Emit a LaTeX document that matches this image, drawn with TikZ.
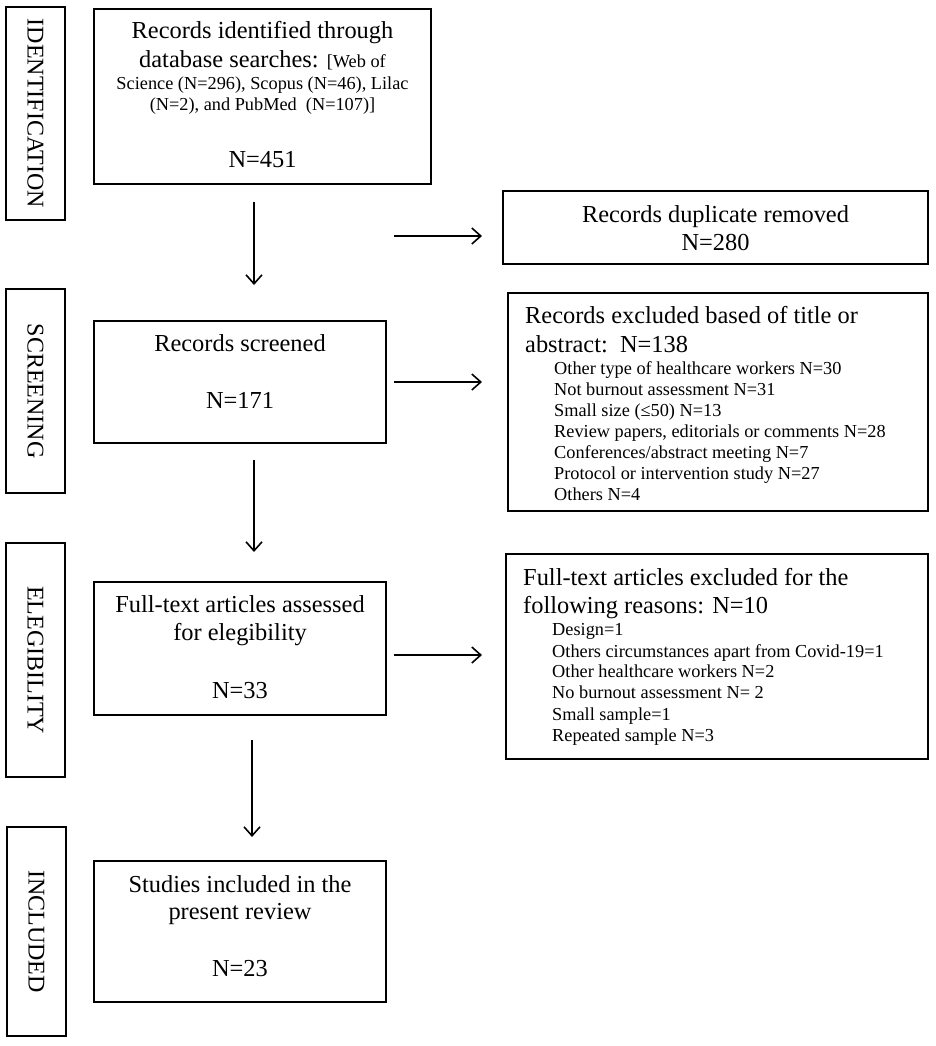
\documentclass[tikz,border=0pt]{standalone}
\usepackage{fontspec}
\setmainfont{Liberation Serif}
\usetikzlibrary{arrows.meta,calc}
\begin{document}
\begin{tikzpicture}[x=1pt,y=-1pt,
  box/.style={draw, line width=1.6pt, inner sep=0pt, outer sep=0pt, anchor=north west},
  big/.style={font=\fontsize{24.4}{28}\selectfont, inner sep=0pt, anchor=base},
  bigl/.style={font=\fontsize{24.4}{28}\selectfont, inner sep=0pt, anchor=base west},
  sm/.style={font=\fontsize{18.3}{21}\selectfont, inner sep=0pt, anchor=base},
  item/.style={font=\fontsize{18.3}{21}\selectfont, inner sep=0pt, anchor=base west},
  side/.style={font=\fontsize{24}{28}\selectfont, inner sep=0pt, rotate=-90},
  arr/.style={line width=1.6pt, -{Straight Barb[length=9pt, width=16pt, line width=1.6pt]}}
]
\useasboundingbox (0,0) rectangle (935,1046);
\fill[white] (0,0) rectangle (935,1046);

% side boxes
\node[box, minimum width=59pt, minimum height=213pt] (sid) at (6,7) {};
\node[side] (sidt) at (sid.center) {IDENTIFICATION};
\node[box, minimum width=59pt, minimum height=204pt] (ssc) at (6,289) {};
\node[side] (ssct) at (ssc.center) {SCREENING};
\node[box, minimum width=59pt, minimum height=234pt] (sel) at (6,543) {};
\node[side] (selt) at (sel.center) {ELEGIBILITY};
\node[box, minimum width=59pt, minimum height=209pt] (sin) at (7,827) {};
\node[side] (sint) at (sin.center) {INCLUDED};

% main boxes
\node[box, minimum width=337pt, minimum height=175pt] (b1) at (94,9) {};
\node[big] (b1a) at (262.5,39) {Records identified through};
\node[big] (b1b) at (262.5,68) {database searches: {\fontsize{18.3}{21}\selectfont [Web of}};
\node[sm]  (b1c) at (262.5,90) {Science (N=296), Scopus (N=46), Lilac};
\node[sm]  (b1d) at (262.5,111) {(N=2), and PubMed\ \ (N=107)]};
\node[big] (b1e) at (262.5,167) {N=451};

\node[box, minimum width=292pt, minimum height=122pt] (b2) at (94,321) {};
\node[big] (b2a) at (240,351) {Records screened};
\node[big] (b2b) at (240,408) {N=171};

\node[box, minimum width=292pt, minimum height=133pt] (b3) at (94,582) {};
\node[big] (b3a) at (240,612) {Full-text articles assessed};
\node[big] (b3b) at (240,640) {for elegibility};
\node[big] (b3c) at (240,698) {N=33};

\node[box, minimum width=292pt, minimum height=141pt] (b4) at (94,861) {};
\node[big] (b4a) at (240,892) {Studies included in the};
\node[big] (b4b) at (240,919) {present review};
\node[big] (b4c) at (240,976) {N=23};

% right boxes
\node[box, minimum width=425pt, minimum height=73pt] (dup) at (503,191) {};
\node[big] (dupa) at (715.5,222) {Records duplicate removed};
\node[big] (dupb) at (715.5,250) {N=280};

\node[box, minimum width=420pt, minimum height=218pt] (ex1) at (508,293) {};
\node[bigl] (ex1a) at (525,323) {Records excluded based of title or};
\node[bigl] (ex1b) at (525,352) {abstract:\ \ N=138};
\node[item] (ex1c) at (554,374) {Other type of healthcare workers N=30};
\node[item] (ex1d) at (554,395) {Not burnout assessment N=31};
\node[item] (ex1e) at (554,416) {Small size (≤50) N=13};
\node[item] (ex1f) at (554,437) {Review papers, editorials or comments N=28};
\node[item] (ex1g) at (554,458) {Conferences/abstract meeting N=7};
\node[item] (ex1h) at (554,479) {Protocol or intervention study N=27};
\node[item] (ex1i) at (554,500) {Others N=4};

\node[box, minimum width=422pt, minimum height=205pt] (ex2) at (506,554) {};
\node[bigl] (ex2a) at (523,585) {Full-text articles excluded for the};
\node[bigl] (ex2b) at (523,613) {following reasons: N=10};
\node[item] (ex2c) at (552,635) {Design=1};
\node[item] (ex2d) at (552,657) {Others circumstances apart from Covid-19=1};
\node[item] (ex2e) at (552,677) {Other healthcare workers N=2};
\node[item] (ex2f) at (552,698) {No burnout assessment N= 2};
\node[item] (ex2g) at (552,720) {Small sample=1};
\node[item] (ex2h) at (552,741) {Repeated sample N=3};

% arrows
\draw[arr] ($(b1.south)+(-8.5,18)$) -- ($(b2.north)+(14,-36)$);
\draw[arr] ($(b2.south)+(14,17)$) -- ($(b3.north)+(14,-30)$);
\draw[arr] ($(b3.south)+(12,25)$) -- ($(b4.north)+(12,-24)$);
\draw[arr] ($(dup.west)+(-109,8.5)$) -- ($(dup.west)+(-21,8.5)$);
\draw[arr] ($(b2.east)+(8,0)$) -- ($(b2.east -| ex1.west)+(-26,0)$);
\draw[arr] ($(ex2.west)+(-112,-1.5)$) -- ($(ex2.west)+(-24,-1.5)$);
\end{tikzpicture}
\end{document}
